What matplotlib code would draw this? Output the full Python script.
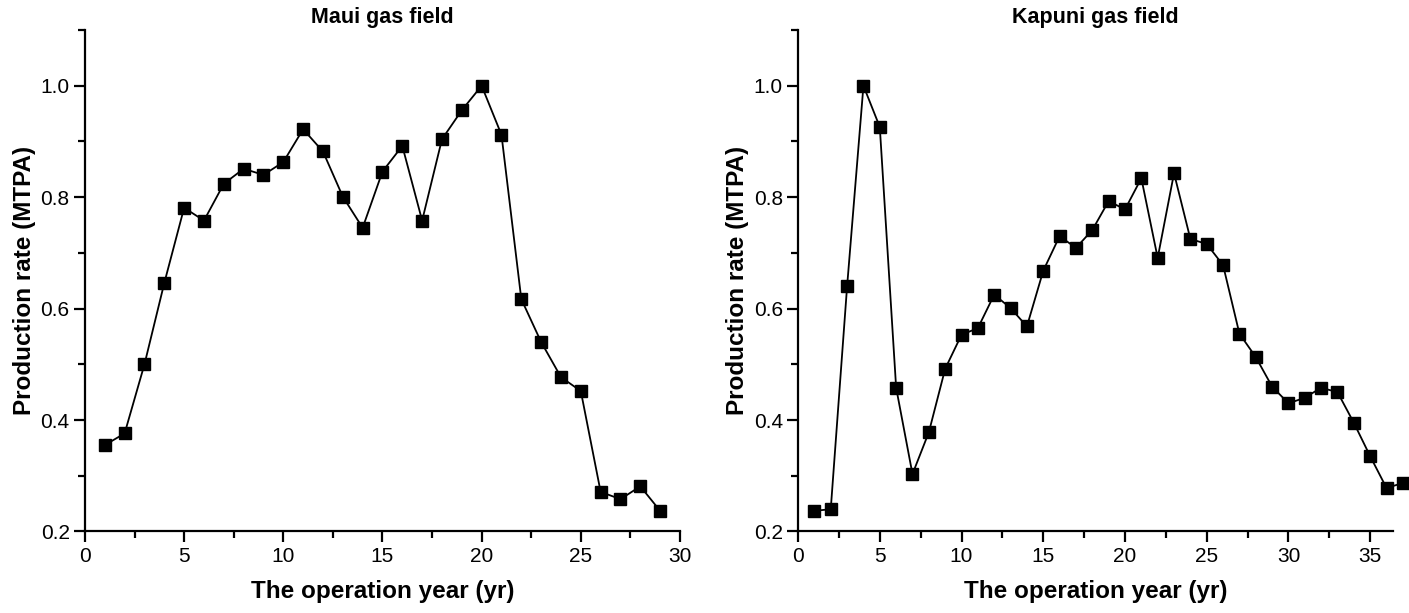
import matplotlib.pyplot as plt
from matplotlib.ticker import MultipleLocator

plt.rcParams['font.family'] = ['Liberation Sans', 'DejaVu Sans']

# annual production, normalised to the peak year
maui_years = list(range(1, 30))
maui_rate = [0.355, 0.376, 0.500, 0.646, 0.781, 0.758, 0.824, 0.851, 0.840, 0.863,
             0.922, 0.882, 0.801, 0.745, 0.846, 0.892, 0.758, 0.904, 0.956, 1.000,
             0.912, 0.617, 0.540, 0.477, 0.452, 0.271, 0.258, 0.281, 0.237]

kapuni_years = list(range(1, 38))
kapuni_rate = [0.237, 0.240, 0.640, 1.000, 0.926, 0.458, 0.303, 0.378, 0.492, 0.553,
               0.565, 0.625, 0.601, 0.568, 0.668, 0.730, 0.709, 0.741, 0.793, 0.778,
               0.834, 0.691, 0.843, 0.725, 0.716, 0.678, 0.555, 0.513, 0.460, 0.430,
               0.440, 0.458, 0.450, 0.395, 0.335, 0.278, 0.287]

fig = plt.figure(figsize=(14.09, 6.13), dpi=100)
ax1 = fig.add_axes([0.0603, 0.133, 0.4223, 0.818])
ax2 = fig.add_axes([0.5664, 0.133, 0.4223, 0.818])


def style_axis(ax, title, xmax):
    ax.set_title(title, fontsize=15.5, fontweight='bold', pad=5)
    ax.set_xlabel('The operation year (yr)', fontsize=17.5, fontweight='bold', labelpad=10)
    ax.set_ylabel('Production rate (MTPA)', fontsize=17.5, fontweight='bold', labelpad=3)
    ax.set_xlim(0, xmax)
    ax.set_ylim(0.2, 1.1)
    ax.xaxis.set_major_locator(MultipleLocator(5))
    ax.xaxis.set_minor_locator(MultipleLocator(2.5))
    ax.set_yticks([0.2, 0.4, 0.6, 0.8, 1.0])
    ax.set_yticklabels(['0.2', '0.4', '0.6', '0.8', '1.0'])
    ax.yaxis.set_minor_locator(MultipleLocator(0.1))
    for side in ('top', 'right'):
        ax.spines[side].set_visible(False)
    for side in ('left', 'bottom'):
        ax.spines[side].set_linewidth(1.6)
    ax.tick_params(which='major', direction='out', length=8, width=1.6, labelsize=15, pad=3)
    ax.tick_params(which='minor', direction='out', length=5, width=1.6)


ax1.plot(maui_years, maui_rate, 'k-', lw=1.3, marker='s', ms=8, clip_on=False)
style_axis(ax1, 'Maui gas field', 30)

ax2.plot(kapuni_years, kapuni_rate, 'k-', lw=1.3, marker='s', ms=8, clip_on=False)
style_axis(ax2, 'Kapuni gas field', 36.4)

fig.savefig('out.png', dpi=100)
